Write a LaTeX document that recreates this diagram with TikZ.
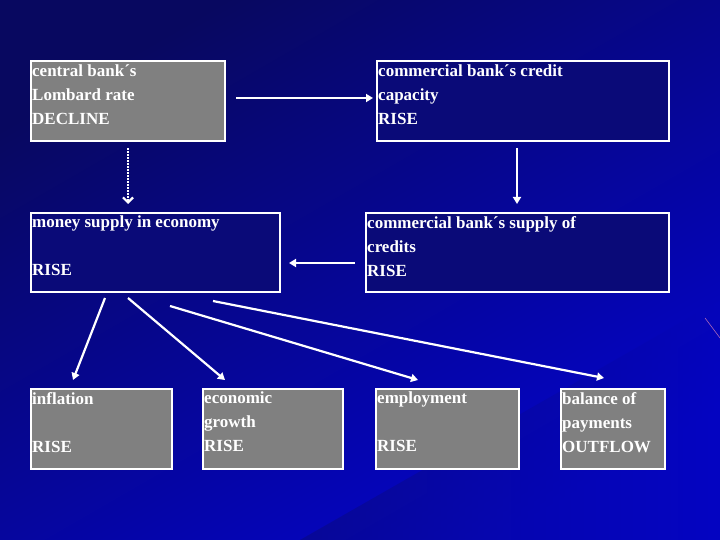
\documentclass[tikz,border=0pt]{standalone}
\usepackage{fontspec}
\setmainfont{Liberation Serif}
\usetikzlibrary{arrows.meta}
\definecolor{navy}{RGB}{10,10,120}
\definecolor{boxgray}{RGB}{128,128,128}
\begin{document}
\begin{tikzpicture}[x=1pt,y=-1pt,
  box/.style={draw=white,line width=2.2pt,inner sep=0pt},
  gbox/.style={box,fill=boxgray},
  nbox/.style={box,fill=navy},
  txt/.style={anchor=north west,inner sep=0pt,align=left,text=white,
    font=\fontsize{17}{24}\selectfont\bfseries},
  arr/.style={white,line width=2.2pt,-{Triangle[length=7pt,width=8pt]}},
  darr/.style={white,line width=2.2pt,dash pattern=on 2pt off 1pt,-{Straight Barb[length=5pt,width=10pt]}}]
\shade[top color=navy!80!black,bottom color=blue!60!navy,shading angle=30] (0,0) rectangle (720,540);
\useasboundingbox (0,0) rectangle (720,540);
\shade[left color=navy,right color=blue!50!navy,opacity=0.5] (720,300) -- (300,540) -- (720,540) -- cycle;
\draw[magenta!40!blue!60!white,line width=0.6pt] (705,318) -- (720,338);

\node[gbox,minimum width=194,minimum height=80,anchor=north west] (A) at (30,60) {};
\node[nbox,minimum width=292,minimum height=80,anchor=north west] (B) at (376,60) {};
\node[nbox,minimum width=249,minimum height=79,anchor=north west] (C) at (30,212) {};
\node[nbox,minimum width=303,minimum height=79,anchor=north west] (D) at (365,212) {};
\node[gbox,minimum width=141,minimum height=80,anchor=north west] (E) at (30,388) {};
\node[gbox,minimum width=140,minimum height=80,anchor=north west] (F) at (202,388) {};
\node[gbox,minimum width=143,minimum height=80,anchor=north west] (G) at (375,388) {};
\node[gbox,minimum width=104,minimum height=80,anchor=north west] (H) at (560,388) {};

\node[txt] (tA) at ([shift={(2,4)}]A.north west) {central bank´s\\Lombard rate\\DECLINE};
\node[txt] (tB) at ([shift={(2,4)}]B.north west) {commercial bank´s credit\\capacity\\RISE};
\node[txt] (tC) at ([shift={(2,4)}]C.north west) {money supply in economy\\\mbox{}\\RISE};
\node[txt] (tD) at ([shift={(2,4)}]D.north west) {commercial bank´s supply of\\credits\\RISE};
\node[txt] (tE) at ([shift={(2,4)}]E.north west) {inflation\\\mbox{}\\RISE};
\node[txt] (tF) at ([shift={(2,4)}]F.north west) {economic\\growth\\RISE};
\node[txt] (tG) at ([shift={(2,4)}]G.north west) {employment\\\mbox{}\\RISE};
\node[txt] (tH) at ([shift={(2,4)}]H.north west) {balance of\\payments\\OUTFLOW};

\coordinate (a1) at (236,98); \coordinate (b1) at (373,98);
\coordinate (a2) at (128,148); \coordinate (c2) at (128,204);
\coordinate (b3) at (517,148); \coordinate (d3) at (517,204);
\coordinate (d4) at (355,263); \coordinate (c4) at (289,263);
\coordinate (s1) at (105,298); \coordinate (e1) at (73,380);
\coordinate (s2) at (128,298); \coordinate (f1) at (225,380);
\coordinate (s3) at (170,306); \coordinate (g1) at (418,380);
\coordinate (s4) at (213,301); \coordinate (h1) at (604,378);
\draw[arr] (a1) -- (b1);
\draw[darr] (a2) -- (c2);
\draw[arr] (b3) -- (d3);
\draw[arr] (d4) -- (c4);
\draw[arr] (s1) -- (e1);
\draw[arr] (s2) -- (f1);
\draw[arr] (s3) -- (g1);
\draw[arr] (s4) -- (h1);
\end{tikzpicture}
\end{document}
